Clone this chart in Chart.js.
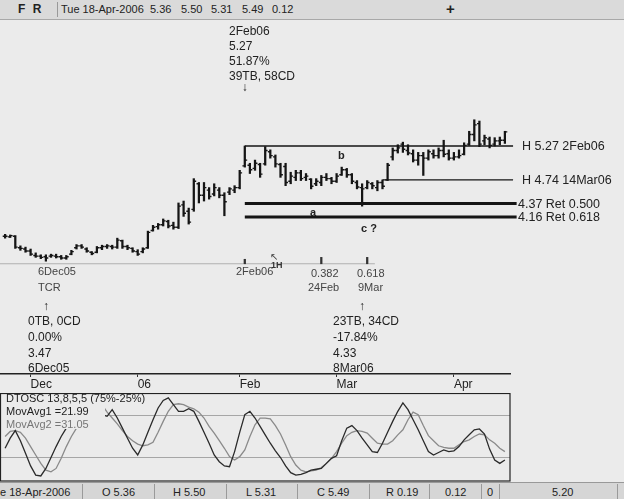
<!DOCTYPE html>
<html>
<head>
<meta charset="utf-8">
<script src="https://cdn.jsdelivr.net/npm/chart.js@4.4.0/dist/chart.umd.min.js"></script>
<style>
body{margin:0;width:624px;height:499px;overflow:hidden;position:relative;background:#ebebeb;font-family:"Liberation Sans",Arial,sans-serif;color:#222}
#head{position:absolute;left:0;top:0;width:624px;height:19px;background:#dadada;border-bottom:1px solid #a8a8a8;font-size:11px;z-index:2}
#head span{position:absolute;top:3px}
#foot{position:absolute;left:0;top:482px;width:624px;height:17px;background:#d6d6d6;border-top:1px solid #999;font-size:11px}
#foot span{position:absolute;top:3px}
#foot i{position:absolute;top:1px;width:1px;height:15px;background:#9a9a9a}
canvas{position:absolute;left:0}
#price{top:0}
#osc{top:393px}
</style>
</head>
<body>
<div id="head">
  <span style="left:18px;top:2px;font-weight:bold;font-size:12px;letter-spacing:2px">F R</span>
  <i style="position:absolute;left:57px;top:2px;width:1px;height:15px;background:#999"></i>
  <span style="left:61px">Tue 18-Apr-2006</span>
  <span style="left:150px">5.36</span>
  <span style="left:181px">5.50</span>
  <span style="left:211px">5.31</span>
  <span style="left:242px">5.49</span>
  <span style="left:272px">0.12</span>
  <span style="left:446px;top:0;font-weight:bold;font-size:15px">+</span>
</div>
<canvas id="price" width="624" height="392"></canvas>
<canvas id="osc" width="624" height="89"></canvas>
<div id="foot">
  <span style="left:0">e 18-Apr-2006</span><i style="left:82px"></i>
  <span style="left:102px">O 5.36</span><i style="left:154px"></i>
  <span style="left:173px">H 5.50</span><i style="left:226px"></i>
  <span style="left:246px">L 5.31</span><i style="left:297px"></i>
  <span style="left:317px">C 5.49</span><i style="left:369px"></i>
  <span style="left:386px">R 0.19</span><i style="left:429px"></i>
  <span style="left:445px">0.12</span><i style="left:481px"></i>
  <span style="left:487px">0</span><i style="left:499px"></i>
  <span style="left:552px">5.20</span><i style="left:617px"></i>
</div>
<script>
// trading days 23 Nov 2005 .. 18 Apr 2006
const dates = ['23Nov','25Nov','28Nov','29Nov','30Nov',
  '1Dec','2Dec','5Dec','6Dec','7Dec','8Dec','9Dec','12Dec','13Dec','14Dec','15Dec','16Dec','19Dec','20Dec','21Dec','22Dec','23Dec','27Dec','28Dec','29Dec','30Dec',
  '3Jan','4Jan','5Jan','6Jan','9Jan','10Jan','11Jan','12Jan','13Jan','17Jan','18Jan','19Jan','20Jan','23Jan','24Jan','25Jan','26Jan','27Jan','30Jan','31Jan',
  '1Feb','2Feb','3Feb','6Feb','7Feb','8Feb','9Feb','10Feb','13Feb','14Feb','15Feb','16Feb','17Feb','21Feb','22Feb','23Feb','24Feb','27Feb','28Feb',
  '1Mar','2Mar','3Mar','6Mar','7Mar','8Mar','9Mar','10Mar','13Mar','14Mar','15Mar','16Mar','17Mar','20Mar','21Mar','22Mar','23Mar','24Mar','27Mar','28Mar','29Mar','30Mar','31Mar',
  '3Apr','4Apr','5Apr','6Apr','7Apr','10Apr','11Apr','12Apr','13Apr','17Apr','18Apr'];

const opens = [3.86,3.85,3.86,3.68,3.66,3.63,3.56,3.55,3.54,3.55,
  3.55,3.54,3.52,3.58,3.68,3.71,3.66,3.61,3.61,3.68,
  3.70,3.70,3.69,3.79,3.70,3.67,3.62,3.62,3.68,3.95,
  4.01,4.04,4.09,4.03,4.00,4.35,4.25,4.28,4.68,4.50,
  4.58,4.52,4.58,4.50,4.55,4.58,4.62,4.96,4.97,4.92,
  4.98,4.99,5.18,5.10,4.98,4.95,4.72,4.78,4.85,4.78,
  4.75,4.68,4.70,4.78,4.76,4.72,4.82,4.90,4.82,4.70,
  4.62,4.62,4.68,4.62,4.70,4.74,5.10,5.20,5.30,5.20,
  5.15,5.05,5.12,5.08,5.15,5.12,5.20,5.15,5.08,5.10,
  5.14,5.30,5.45,5.62,5.35,5.38,5.30,5.35,5.36];
const highs = [3.89,3.88,3.87,3.71,3.69,3.66,3.60,3.57,3.57,3.58,
  3.58,3.56,3.56,3.64,3.73,3.73,3.68,3.62,3.70,3.72,
  3.73,3.72,3.83,3.80,3.72,3.68,3.65,3.68,3.94,4.03,
  4.06,4.13,4.11,4.08,4.38,4.41,4.30,4.76,4.70,4.70,
  4.62,4.68,4.62,4.54,4.62,4.65,4.89,5.27,5.00,5.05,
  5.00,5.26,5.21,5.13,5.00,5.00,4.86,4.89,4.89,4.84,
  4.76,4.76,4.81,4.84,4.78,4.84,4.94,4.92,4.84,4.73,
  4.68,4.73,4.70,4.73,4.74,5.00,5.24,5.29,5.33,5.29,
  5.21,5.17,5.17,5.21,5.21,5.24,5.36,5.21,5.17,5.21,
  5.32,5.50,5.68,5.66,5.44,5.41,5.40,5.41,5.50];
const lows = [3.83,3.84,3.67,3.64,3.61,3.56,3.53,3.51,3.47,3.53,
  3.52,3.50,3.50,3.57,3.66,3.67,3.61,3.57,3.60,3.65,
  3.67,3.66,3.67,3.67,3.65,3.61,3.56,3.60,3.67,3.94,
  3.97,4.02,3.99,3.97,3.98,4.17,4.05,4.25,4.38,4.41,
  4.44,4.49,4.46,4.18,4.51,4.54,4.60,4.94,4.84,4.89,
  4.78,4.97,5.08,4.94,4.78,4.65,4.68,4.73,4.73,4.73,
  4.60,4.65,4.65,4.73,4.68,4.70,4.81,4.78,4.68,4.60,
  4.33,4.60,4.60,4.57,4.60,4.73,5.05,5.16,5.17,5.13,
  5.02,4.97,4.81,5.05,5.08,5.08,5.10,5.05,5.05,5.08,
  5.13,5.28,5.35,5.26,5.29,5.24,5.27,5.29,5.31];
const closes = [3.86,3.87,3.69,3.67,3.63,3.58,3.55,3.53,3.52,3.56,
  3.54,3.52,3.54,3.62,3.71,3.69,3.63,3.59,3.68,3.70,
  3.71,3.69,3.80,3.70,3.68,3.63,3.58,3.66,3.92,4.00,
  4.04,4.10,4.02,4.00,4.33,4.22,4.08,4.72,4.50,4.62,
  4.48,4.62,4.50,4.40,4.60,4.62,4.85,5.05,4.90,5.00,
  4.83,5.20,5.12,4.99,4.82,4.70,4.80,4.85,4.76,4.80,
  4.64,4.72,4.78,4.76,4.72,4.80,4.90,4.82,4.72,4.63,
  4.60,4.70,4.65,4.70,4.64,4.97,5.20,5.24,5.22,5.16,
  5.05,5.12,5.08,5.18,5.12,5.20,5.14,5.08,5.10,5.12,
  5.28,5.45,5.60,5.30,5.40,5.28,5.35,5.36,5.49];

// DTOSC lines
const movAvg1 = [36,48,57,45,30,15,4,3,12,25,
  38,50,60,75,88,96,97,92,84,76,
  74,82,72,60,48,36,28,40,55,70,
  84,93,96,88,80,80,83,80,68,55,
  42,28,20,15,14,32,55,76,80,72,
  62,52,42,33,25,15,7,4,5,7,
  10,11,12,18,24,27,45,60,63,57,
  48,40,32,31,42,55,68,80,90,82,
  70,58,45,32,28,31,34,32,33,38,
  46,52,58,59,53,35,22,18,22];
const movAvg2 = [50,56,57,55,48,38,28,18,10,8,
  12,24,38,50,60,74,86,93,93,88,
  79,72,65,57,50,45,41,39,40,43,
  55,68,80,88,89,88,85,83,79,72,
  62,54,45,36,26,22,26,34,50,64,
  72,72,71,63,53,40,26,16,10,8,
  9,10,13,18,24,32,42,51,55,57,
  56,54,48,42,41,41,45,52,58,70,
  79,76,63,51,45,39,37,36,36,40,
  44,46,50,53,52,46,42,36,32];

const tickDates = ['1Dec','3Jan','1Feb','1Mar','3Apr'];
const tickLabels = ['Dec','06','Feb','Mar','Apr'];

const levels = [5.27, 4.74, 4.37, 4.16];
const levelFrom = ['2Feb','14Mar','2Feb','2Feb'];
const levelText = ['H 5.27 2Feb06','H 4.74 14Mar06','4.37 Ret 0.500','4.16 Ret 0.618'];
const levelWidth = [1.3, 1.3, 3, 3];

const timeMarks = ['2Feb','24Feb','9Mar'];
const markLevel = 3.43;

const ix = d => dates.indexOf(d);
const FONT = '"Liberation Sans", Arial, sans-serif';
const INK = '#151515';

const ohlcTicks = {
  id: 'ohlcTicks',
  afterDatasetsDraw(chart) {
    const {ctx, scales: {x, y}} = chart;
    ctx.save();
    ctx.strokeStyle = INK;
    ctx.lineWidth = 1.4;
    ctx.beginPath();
    opens.forEach((o, i) => {
      const px = x.getPixelForValue(i);
      const yo = y.getPixelForValue(o), yc = y.getPixelForValue(closes[i]);
      ctx.moveTo(px - 2.4, yo); ctx.lineTo(px, yo);
      ctx.moveTo(px, yc); ctx.lineTo(px + 2.4, yc);
    });
    ctx.stroke();
    ctx.restore();
  }
};

const notes = {
  id: 'notes',
  afterDraw(chart) {
    const {ctx, scales: {x, y}} = chart;
    const t = (s, px, py, size, opt = {}) => {
      ctx.font = (opt.bold ? 'bold ' : '') + size + 'px ' + FONT;
      ctx.fillStyle = opt.color || '#222';
      ctx.textAlign = opt.align || 'left';
      ctx.textBaseline = 'middle';
      ctx.fillText(s, px, py);
    };
    ctx.save();
    // top annotation on the 2Feb high
    ['2Feb06', '5.27', '51.87%', '39TB, 58CD'].forEach((s, k) => t(s, 229, 32 + k * 15, 12));
    t('\u2193', x.getPixelForValue(ix('2Feb')), 88, 12, {align: 'center'});
    // 6Dec05 low
    t('6Dec05', 38, 272, 11, {color: '#444'});
    t('TCR', 38, 288, 11, {color: '#444'});
    t('\u2191', x.getPixelForValue(ix('6Dec')), 307, 12, {align: 'center'});
    ['0TB, 0CD', '0.00%', '3.47', '6Dec05'].forEach((s, k) => t(s, 28, 322 + k * 15.7, 12));
    // 8Mar06 low
    t('\u2191', x.getPixelForValue(ix('8Mar')), 307, 12, {align: 'center'});
    ['23TB, 34CD', '-17.84%', '4.33', '8Mar06'].forEach((s, k) => t(s, 333, 322 + k * 15.7, 12));
    // time projections
    t('2Feb06', 236, 272, 11, {color: '#444'});
    t('0.382', 311, 274, 11, {color: '#444'});
    t('24Feb', 308, 288, 11, {color: '#444'});
    t('0.618', 357, 274, 11, {color: '#444'});
    t('9Mar', 358, 288, 11, {color: '#444'});
    t('1H', 271, 266, 9, {color: '#333', bold: true});
    t('\u2196', 270, 257, 10, {color: '#333'});
    // wave letters
    t('b', 338, 156, 11, {bold: true});
    t('a', 310, 213, 11, {bold: true});
    t('c ?', 361, 229, 11, {bold: true});
    // level labels
    levels.forEach((v, k) => {
      t(levelText[k], k < 2 ? 522 : 518, y.getPixelForValue(v) + 1, 12.5);
    });
    ctx.restore();
  }
};

const levelSets = levels.map((v, k) => ({
  type: 'line',
  data: [{x: ix(levelFrom[k]), y: v}, {x: k < 2 ? 99.6 : 100.3, y: v}],
  borderColor: INK,
  borderWidth: levelWidth[k],
  pointRadius: 0,
  clip: false
}));

new Chart(document.getElementById('price'), {
  type: 'bar',
  data: {
    datasets: [
      {
        data: highs.map((h, i) => ({x: i, y: [lows[i], h]})),
        backgroundColor: INK,
        barThickness: 1.6,
        grouped: false
      },
      {
        data: timeMarks.map((d, k) => ({x: ix(d), y: [markLevel, markLevel + (k ? 0.1 : 0.07)]})),
        backgroundColor: '#333',
        barThickness: 1.6,
        grouped: false
      },
      {
        type: 'line',
        data: [{x: -1, y: markLevel}, {x: 72.5, y: markLevel}],
        borderColor: '#b0b0b0',
        borderWidth: 1,
        pointRadius: 0
      },
      ...levelSets
    ]
  },
  options: {
    responsive: false,
    devicePixelRatio: 1,
    animation: false,
    events: [],
    layout: {padding: {left: 0, right: 114, top: 20, bottom: 0}},
    plugins: {legend: {display: false}, tooltip: {enabled: false}},
    scales: {
      x: {
        type: 'linear', min: -1, max: 99, offset: false,
        afterBuildTicks: s => { s.ticks = tickDates.map(d => ({value: ix(d)})); },
        afterFit: s => { s.height = 18; },
        ticks: {
          autoSkip: false, maxRotation: 0, padding: 0, align: 'start',
          color: '#222', font: {family: FONT, size: 12},
          callback: (v) => tickLabels[tickDates.indexOf(dates[v])]
        },
        grid: {drawOnChartArea: false, offset: false, tickLength: 3, color: '#333'},
        border: {color: '#222', width: 1.5}
      },
      y: {type: 'linear', min: 1.7075, max: 7.23875, display: false}
    }
  },
  plugins: [ohlcTicks, notes]
});

const oscBox = {
  id: 'oscBox',
  afterDraw(chart) {
    const {ctx, chartArea: a} = chart;
    ctx.save();
    // legend panel covers the lines under it
    ctx.fillStyle = '#ebebeb';
    ctx.fillRect(1, 1, 146, 13);
    ctx.fillRect(1, 14, 104, 22);
    ctx.font = '11px ' + FONT;
    ctx.textBaseline = 'middle';
    ctx.fillStyle = '#222';
    ctx.fillText('DTOSC 13,8,5,5 (75%-25%)', 6, 6);
    ctx.fillText('MovAvg1 =21.99', 6, 19);
    ctx.fillStyle = '#777';
    ctx.fillText('MovAvg2 =31.05', 6, 32);
    ctx.strokeStyle = '#222';
    ctx.lineWidth = 1.2;
    ctx.strokeRect(0.5, 0.5, a.right - 0.5, 87.5);
    ctx.restore();
  }
};

new Chart(document.getElementById('osc'), {
  type: 'line',
  data: {
    datasets: [
      {data: movAvg1.map((v, i) => ({x: i, y: v})), borderColor: '#2a2a2a', borderWidth: 1.3, pointRadius: 0, tension: 0},
      {data: movAvg2.map((v, i) => ({x: i, y: v})), borderColor: '#8a8a8a', borderWidth: 1.3, pointRadius: 0, tension: 0}
    ]
  },
  options: {
    responsive: false,
    devicePixelRatio: 1,
    animation: false,
    events: [],
    layout: {padding: {left: 0, right: 114, top: 0, bottom: 0}},
    plugins: {legend: {display: false}, tooltip: {enabled: false}},
    scales: {
      x: {type: 'linear', min: -1, max: 99, display: false},
      y: {
        type: 'linear', min: -4.17, max: 101.8,
        afterBuildTicks: s => { s.ticks = [{value: 25}, {value: 75}]; },
        afterFit: s => { s.width = 0; },
        ticks: {display: false},
        grid: {color: '#a6a6a6', drawTicks: false},
        border: {display: false}
      }
    }
  },
  plugins: [oscBox]
});
</script>
</body>
</html>
